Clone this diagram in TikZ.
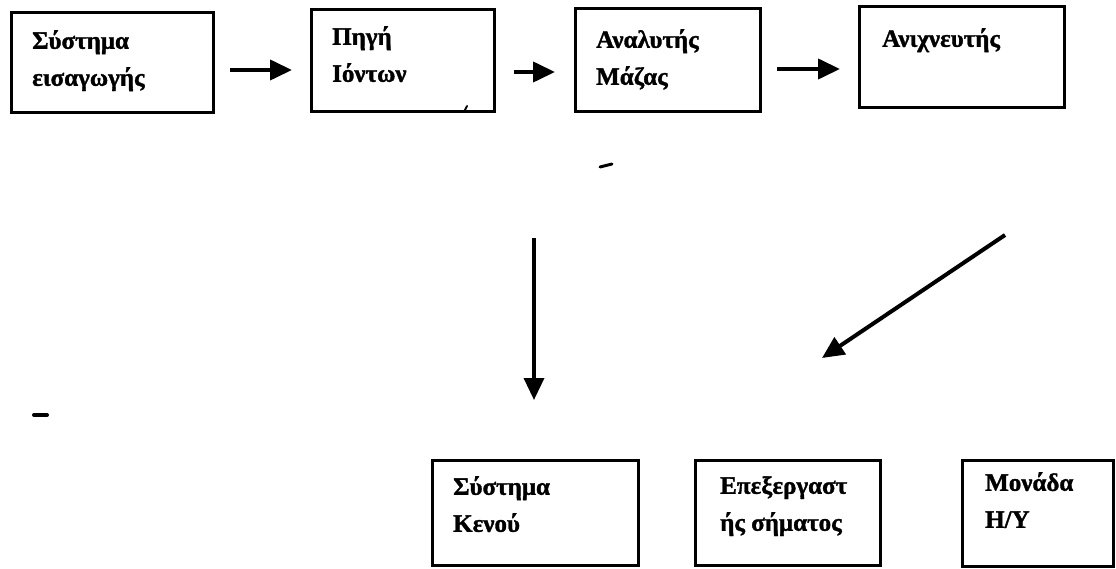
\documentclass[tikz,border=0pt]{standalone}
\usepackage{fontspec}
\setmainfont[BoldFeatures={FakeBold=1.3}]{Liberation Serif}
\usetikzlibrary{arrows.meta}

\begin{document}
\begin{tikzpicture}[x=1pt,y=-1pt,
  box/.style={draw=black, line width=3pt, inner sep=0pt, outer sep=0pt},
  lbl/.style={anchor=north west, inner sep=0pt, align=left,
              font=\bfseries\fontsize{25}{37}\selectfont},
  flow/.style={line width=4pt, -{Triangle[length=22pt,width=20pt]}},
  speck/.style={line width=3pt, line cap=round}]
  \useasboundingbox (0,0) rectangle (1116,569);
  \fill[white] (0,0) rectangle (1116,569);

  % top row of stages
  \node[box, minimum width=202pt, minimum height=100pt] (b1) at (112,63) {};
  \node[box, minimum width=183pt, minimum height=102pt] (b2) at (402.5,61) {};
  \node[box, minimum width=185pt, minimum height=103pt] (b3) at (667.5,60.5) {};
  \node[box, minimum width=205pt, minimum height=101pt] (b4) at (961.5,57.5) {};

  % bottom row of units
  \node[box, minimum width=206pt, minimum height=105pt] (b5) at (535,512.5) {};
  \node[box, minimum width=185pt, minimum height=105pt] (b6) at (787.5,512.5) {};
  \node[box, minimum width=151pt, minimum height=106pt] (b7) at (1037.5,513) {};

  % labels
  \node[lbl] (t1) at ([shift={(21,17)}]b1.north west) {Σύστημα\\εισαγωγής};
  \node[lbl] (t2) at ([shift={(21,16)}]b2.north west) {Πηγή\\Ιόντων};
  \node[lbl] (t3) at ([shift={(21,20)}]b3.north west) {Αναλυτής\\Μάζας};
  \node[lbl] (t4) at ([shift={(23,21)}]b4.north west) {Ανιχνευτής};
  \node[lbl] (t5) at ([shift={(21,16)}]b5.north west) {Σύστημα\\Κενού};
  \node[lbl] (t6) at ([shift={(25,16)}]b6.north west) {Επεξεργαστ\\ής σήματος};
  \node[lbl] (t7) at ([shift={(23,12)}]b7.north west) {Μονάδα\\Η/Υ};

  % arrow end points
  \coordinate (a1s) at (230,70);  \coordinate (a1e) at (292,70);
  \coordinate (a2s) at (514,72);  \coordinate (a2e) at (555,72);
  \coordinate (a3s) at (777,69);  \coordinate (a3e) at (840,69);
  \coordinate (vs) at (534,238);  \coordinate (ve) at (534,400);
  \coordinate (ds) at (1005,235); \coordinate (de) at (822,358);

  \draw[flow] (a1s) -- (a1e);
  \draw[flow] (a2s) -- (a2e);
  \draw[flow] (a3s) -- (a3e);
  \draw[flow, line width=3.5pt] (vs) -- (ve);
  \draw[flow] (ds) -- (de);

  % small marks
  \coordinate (m1) at (464,112); \coordinate (m2) at (467,106);
  \draw[line width=2pt, line cap=round] (m1) -- (m2);
  \coordinate (m3) at (600,167); \coordinate (m4) at (612,164);
  \draw[speck] (m3) -- (m4);
  \coordinate (m5) at (34,415); \coordinate (m6) at (47,415);
  \draw[speck, line width=4pt] (m5) -- (m6);
\end{tikzpicture}
\end{document}
